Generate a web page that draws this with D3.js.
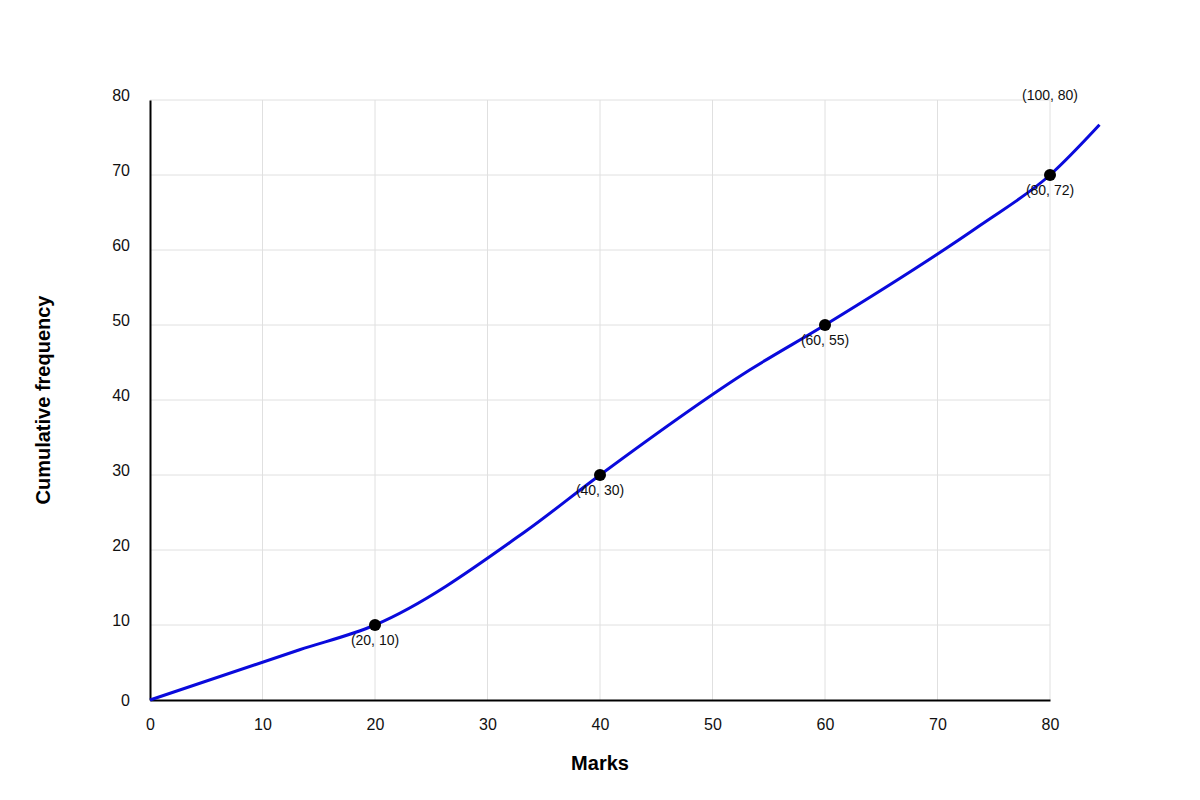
<!DOCTYPE html>
<html>
<head>
<meta charset="utf-8">
<script src="https://cdn.jsdelivr.net/npm/d3@7"></script>
<style>
  body { margin: 0; background: #fff; }
  svg { font-family: "Liberation Sans", Arial, sans-serif; }
</style>
</head>
<body>
<div id="chart"></div>
<script>
// curve path (marks, cumulative frequency)
const curveX = [0, 13.3, 20, 33.3, 40, 53.3, 60, 73.8, 80, 84.4];
const curveY = [0, 6.7, 10, 22.4, 30, 44, 50, 63.3, 70, 76.7];

// marked points and their labels
const pointX = [20, 40, 60, 80];
const pointY = [10, 30, 50, 70];
const pointLabels = ["(20, 10)", "(40, 30)", "(60, 55)", "(80, 72)"];

// extra label at the top right
const noteX = 80, noteY = 80, noteText = "(100, 80)";

const xTicks = [0, 10, 20, 30, 40, 50, 60, 70, 80];
const yTicks = [0, 10, 20, 30, 40, 50, 60, 70, 80];

const width = 1200, height = 800;
const margin = { top: 100, right: 150, bottom: 100, left: 150 };

const svg = d3.select("#chart").append("svg").attr("width", width).attr("height", height);

const x = d3.scaleLinear().domain([0, 80]).range([margin.left, width - margin.right]);
const y = d3.scaleLinear().domain([0, 80]).range([height - margin.bottom, margin.top]);

// grid
svg.append("g")
  .selectAll("line")
  .data(xTicks.slice(1))
  .join("line")
  .attr("x1", d => x(d)).attr("x2", d => x(d))
  .attr("y1", y(0)).attr("y2", y(80))
  .attr("stroke", "#e0e0e0").attr("stroke-width", 1);

svg.append("g")
  .selectAll("line")
  .data(yTicks.slice(1))
  .join("line")
  .attr("x1", x(0)).attr("x2", x(80))
  .attr("y1", d => y(d)).attr("y2", d => y(d))
  .attr("stroke", "#e0e0e0").attr("stroke-width", 1);

// axes
const xAxis = svg.append("g")
  .attr("transform", `translate(0,${y(0)})`)
  .call(d3.axisBottom(x).tickValues(xTicks).tickSize(0).tickPadding(19));
const yAxis = svg.append("g")
  .attr("transform", `translate(${x(0)},0)`)
  .call(d3.axisLeft(y).tickValues(yTicks).tickSize(0).tickPadding(20));

[xAxis, yAxis].forEach(a => {
  a.select(".domain").attr("stroke", "#000").attr("stroke-width", 2);
  a.selectAll("text").attr("font-size", 16).attr("fill", "#111")
    .attr("font-family", "Liberation Sans, Arial, sans-serif");
});
// y labels sit a little above their gridline, except the zero
yAxis.selectAll(".tick text").attr("dy", d => (d === 0 ? "0.32em" : "0em"));

// curve
const line = d3.line()
  .x((d, i) => x(curveX[i]))
  .y((d, i) => y(curveY[i]))
  .curve(d3.curveMonotoneX);

svg.append("path")
  .datum(curveX)
  .attr("d", line)
  .attr("fill", "none")
  .attr("stroke", "#0a0adc")
  .attr("stroke-width", 3)
  .attr("stroke-linejoin", "round");

// dots
svg.append("g")
  .selectAll("circle")
  .data(pointX)
  .join("circle")
  .attr("cx", d => x(d))
  .attr("cy", (d, i) => y(pointY[i]))
  .attr("r", 6)
  .attr("fill", "#000");

svg.append("g")
  .selectAll("text")
  .data(pointLabels)
  .join("text")
  .attr("x", (d, i) => x(pointX[i]))
  .attr("y", (d, i) => y(pointY[i]) + 20)
  .attr("text-anchor", "middle")
  .attr("font-size", 14)
  .attr("fill", "#111")
  .text(d => d);

svg.append("text")
  .attr("x", x(noteX))
  .attr("y", y(noteY))
  .attr("text-anchor", "middle")
  .attr("font-size", 14)
  .attr("fill", "#111")
  .text(noteText);

// axis titles
svg.append("text")
  .attr("x", (x(0) + x(80)) / 2)
  .attr("y", 770)
  .attr("text-anchor", "middle")
  .attr("font-size", 20)
  .attr("font-weight", "bold")
  .text("Marks");

svg.append("text")
  .attr("transform", `translate(50,${(y(0) + y(80)) / 2}) rotate(-90)`)
  .attr("text-anchor", "middle")
  .attr("font-size", 20)
  .attr("font-weight", "bold")
  .text("Cumulative frequency");
</script>
</body>
</html>
